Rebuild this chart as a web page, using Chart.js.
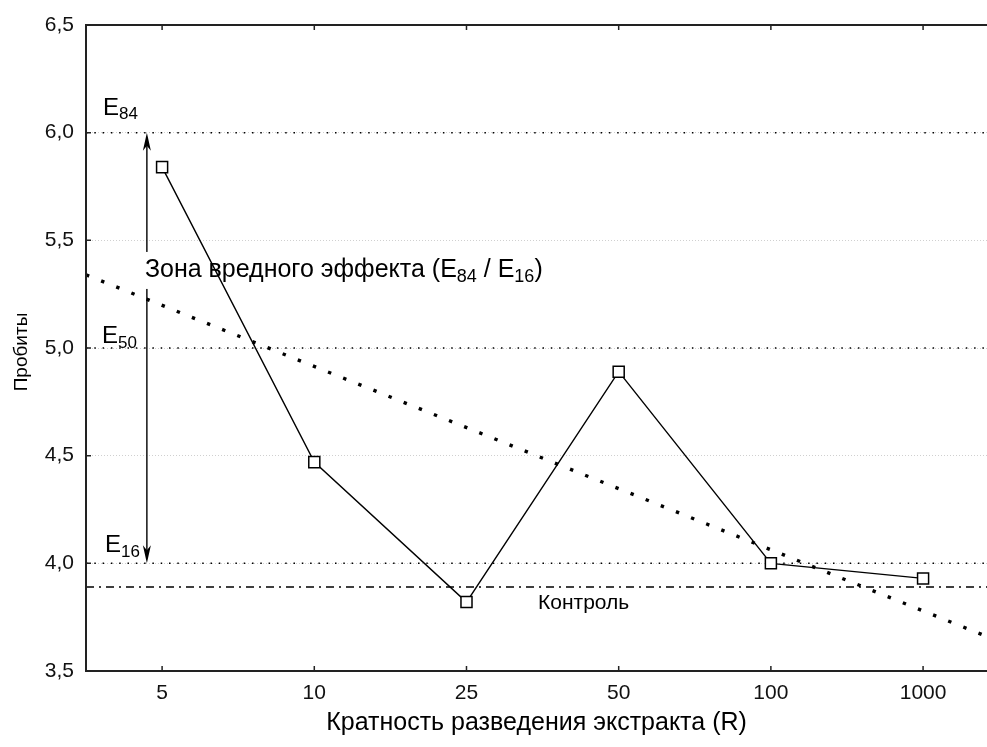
<!DOCTYPE html>
<html>
<head>
<meta charset="utf-8">
<script src="https://cdn.jsdelivr.net/npm/chart.js@4.4.1/dist/chart.umd.min.js"></script>
<style>
html,body{margin:0;padding:0;background:#fff;}
canvas{display:block;}
</style>
</head>
<body>
<canvas id="c" width="987" height="747"></canvas>
<script>
// ---- data ----
const categories = ['5', '10', '25', '50', '100', '1000'];
const probits = [5.84, 4.47, 3.82, 4.89, 4.00, 3.93];
const trendValues = [5.34, 3.66];          // regression line at the two ends of the axis
const controlLevel = 3.89;                 // "Контроль"
const effectLevels = [6.0, 5.0, 4.0];      // E84, E50, E16
const effectSubs = ['84', '50', '16'];
const yTickValues = [3.5, 4.0, 4.5, 5.0, 5.5, 6.0, 6.5];

const X_MIN = -0.5, X_MAX = 5.42;
const FONT = 'Liberation Sans, Arial, sans-serif';

const mainPoints = probits.map((v, i) => ({x: i, y: v}));
const trendPoints = [{x: X_MIN, y: trendValues[0]}, {x: X_MAX, y: trendValues[1]}];
const controlPoints = [{x: X_MIN, y: controlLevel}, {x: X_MAX, y: controlLevel}];

const datasets = [
  {
    label: 'probits', data: mainPoints, borderColor: '#000', borderWidth: 1.4,
    pointStyle: 'rect', pointRadius: 7.8, pointHoverRadius: 7.8,
    pointBackgroundColor: '#fff', pointBorderColor: '#000', pointBorderWidth: 1.5,
    tension: 0
  },
  {
    label: 'trend', data: trendPoints, borderColor: '#000', borderWidth: 3.4,
    borderDash: [3.4, 12.9], pointRadius: 0, borderCapStyle: 'butt'
  },
  {
    label: 'control', data: controlPoints, borderColor: '#000', borderWidth: 1.3,
    borderDash: [8, 5, 2, 5], pointRadius: 0
  }
];
effectLevels.forEach((lv, i) => {
  datasets.push({
    label: 'E' + effectSubs[i],
    data: [{x: X_MIN, y: lv}, {x: X_MAX, y: lv}],
    borderColor: '#000', borderWidth: 1.5, borderDash: [1.5, 6.8], pointRadius: 0
  });
});

function drawSub(ctx, x, y, main, sub, size) {
  ctx.font = size + 'px ' + FONT;
  ctx.fillText(main, x, y);
  let w = ctx.measureText(main).width;
  ctx.font = Math.round(size * 0.72) + 'px ' + FONT;
  ctx.fillText(sub, x + w, y + size * 0.2);
  return w + ctx.measureText(sub).width;
}

const decor = {
  id: 'decor',
  beforeDatasetsDraw(chart) {
    const {ctx, scales: {x, y}} = chart;
    ctx.save();
    const ax = x.getPixelForValue(-0.1);
    const base = y.getPixelForValue(5.33);
    const size = 25;
    ctx.fillStyle = '#000';
    ctx.textBaseline = 'alphabetic';
    ctx.textAlign = 'left';
    let tx = ax - 2;
    const parts = [['Зона вредного эффекта (E', '84'], [' / E', '16'], [')', '']];
    let total = 0;
    parts.forEach(p => {
      ctx.font = size + 'px ' + FONT; total += ctx.measureText(p[0]).width;
      ctx.font = Math.round(size * 0.72) + 'px ' + FONT; total += ctx.measureText(p[1]).width;
    });
    const yTop = y.getPixelForValue(effectLevels[0]);
    const yBot = y.getPixelForValue(effectLevels[2]);
    ctx.strokeStyle = '#000';
    ctx.lineWidth = 1.4;
    ctx.beginPath();
    ctx.moveTo(ax, yTop + 10);
    ctx.lineTo(ax, yBot - 10);
    ctx.stroke();
    function head(tipY, dir) {
      ctx.beginPath();
      ctx.moveTo(ax, tipY);
      ctx.lineTo(ax - 4, tipY + dir * 18);
      ctx.lineTo(ax, tipY + dir * 13);
      ctx.lineTo(ax + 4, tipY + dir * 18);
      ctx.closePath();
      ctx.fillStyle = '#000';
      ctx.fill();
    }
    head(yTop, 1);
    head(yBot, -1);
    ctx.fillStyle = '#fff';
    ctx.fillRect(tx, base - 25, total + 2, 37);
    ctx.fillStyle = '#000';
    parts.forEach(p => { tx += drawSub(ctx, tx, base, p[0], p[1], size); });

    const offs = [[17, -18], [16, -5], [19, -11]];
    effectLevels.forEach((lv, i) => {
      const py = y.getPixelForValue(lv);
      drawSub(ctx, chart.chartArea.left + offs[i][0], py + offs[i][1], 'E', effectSubs[i], 24);
    });
    ctx.font = '21px ' + FONT;
    ctx.fillText('Контроль', x.getPixelForValue(2.47), y.getPixelForValue(controlLevel) + 22);
    ctx.restore();
  },
  afterDraw(chart) {
    const {ctx, chartArea: a, scales: {x, y}} = chart;
    ctx.save();
    ctx.strokeStyle = '#222';
    ctx.lineWidth = 2;
    ctx.beginPath();
    ctx.moveTo(a.right, a.top); ctx.lineTo(a.left, a.top);
    ctx.lineTo(a.left, a.bottom); ctx.lineTo(a.right, a.bottom);
    ctx.stroke();
    ctx.lineWidth = 1.5;
    ctx.beginPath();
    categories.forEach((c, i) => {
      const px = x.getPixelForValue(i);
      ctx.moveTo(px, a.bottom); ctx.lineTo(px, a.bottom - 5);
      ctx.moveTo(px, a.top); ctx.lineTo(px, a.top + 5);
    });
    yTickValues.forEach(v => {
      const py = y.getPixelForValue(v);
      ctx.moveTo(a.left, py); ctx.lineTo(a.left + 5, py);
    });
    ctx.stroke();
    ctx.fillStyle = '#000';
    ctx.font = '25px ' + FONT;
    ctx.textAlign = 'center';
    ctx.textBaseline = 'alphabetic';
    ctx.fillText('Кратность разведения экстракта (R)', (a.left + a.right) / 2, 730);
    ctx.save();
    ctx.translate(27, (a.top + a.bottom) / 2 + 4);
    ctx.rotate(-Math.PI / 2);
    ctx.font = '19px ' + FONT;
    ctx.fillText('Пробиты', 0, 0);
    ctx.restore();
    ctx.restore();
  }
};

new Chart(document.getElementById('c'), {
  type: 'line',
  data: {datasets},
  options: {
    responsive: false,
    animation: false,
    devicePixelRatio: 1,
    layout: {autoPadding: false, padding: {top: 25, right: 0, left: 0, bottom: 0}},
    plugins: {legend: {display: false}, tooltip: {enabled: false}},
    scales: {
      x: {
        type: 'linear', min: X_MIN, max: X_MAX,
        afterBuildTicks(s) { s.ticks = categories.map((c, i) => ({value: i})); },
        afterFit(s) { s.height = 76; s.paddingLeft = 0; s.paddingRight = 0; },
        grid: {display: false, drawTicks: false},
        border: {display: false},
        ticks: {
          callback: (v) => categories[v],
          font: {size: 21, family: FONT}, color: '#111', padding: 10, maxRotation: 0
        }
      },
      y: {
        min: 3.5, max: 6.5,
        afterBuildTicks(s) { s.ticks = yTickValues.map(v => ({value: v})); },
        afterFit(s) { s.width = 86; s.paddingTop = 0; s.paddingBottom = 0; },
        grid: {color: '#d0d0d0', lineWidth: 1, drawTicks: false},
        border: {display: false, dash: [1, 2]},
        ticks: {
          callback: (v) => v.toFixed(1).replace('.', ','),
          font: {size: 21, family: FONT}, color: '#111', padding: 12
        }
      }
    }
  },
  plugins: [decor]
});
</script>
</body>
</html>
